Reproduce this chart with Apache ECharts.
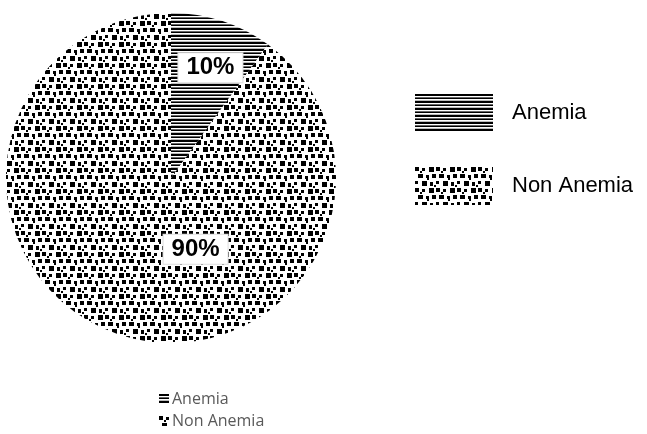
<!DOCTYPE html>
<html>
<head>
<meta charset="utf-8">
<script src="https://cdn.jsdelivr.net/npm/echarts@6/dist/echarts.min.js"></script>
<style>
  html, body { margin: 0; padding: 0; background: #fff; }
  #chart { width: 647px; height: 434px; }
</style>
</head>
<body>
<div id="chart"></div>
<script>
// Share of anemia among the sample (percent)
const categories = ['Anemia', 'Non Anemia'];
const shares = [10, 90];
const labelTexts = ['10%', '90%'];

// Horizontal stripe fill
function stripeTile() {
  const c = document.createElement('canvas');
  const rows = ['#000', '#000', '#fff', '#666', '#000', '#fff', '#bbb'];
  c.width = 4; c.height = rows.length;
  const g = c.getContext('2d');
  rows.forEach((col, i) => { g.fillStyle = col; g.fillRect(0, i, 4, 1); });
  return c;
}

// Scattered square fill on a staggered 7px grid
function squareTile() {
  const c = document.createElement('canvas');
  c.width = 21; c.height = 21;
  const g = c.getContext('2d');
  g.fillStyle = '#fff'; g.fillRect(0, 0, 21, 21);
  g.fillStyle = '#000';
  const sq = [
    [0, 0, 4, 4], [7, 1, 3, 3], [14, 0, 5, 5],
    [3, 7, 5, 4], [11, 8, 3, 3], [17, 7, 4, 4],
    [0, 14, 3, 3], [7, 14, 5, 5], [15, 15, 3, 4],
    [5, 4, 2, 2], [12, 11, 2, 2], [19, 18, 2, 2]
  ];
  sq.forEach(s => g.fillRect(s[0], s[1], s[2], s[3]));
  return c;
}

const fills = [
  { image: stripeTile(), repeat: 'repeat' },
  { image: squareTile(), repeat: 'repeat' }
];
const labelOffsets = [[13, -29], [51, -10]];

const chart = echarts.init(document.getElementById('chart'), null, { renderer: 'canvas' });

chart.setOption({
  animation: false,
  backgroundColor: '#fff',
  legend: [
    {
      orient: 'vertical',
      left: 415,
      top: 94,
      padding: 0,
      itemWidth: 78,
      itemHeight: 38,
      itemGap: 35,
      icon: 'rect',
      data: categories,
      textStyle: {
        fontFamily: 'Liberation Sans, Arial, sans-serif',
        fontSize: 22,
        color: '#000',
        padding: [10, 0, 0, 14]
      }
    },
    {
      orient: 'vertical',
      left: 159,
      top: 389,
      padding: 0,
      itemWidth: 10,
      itemHeight: 10,
      itemGap: 2,
      icon: 'rect',
      data: categories,
      textStyle: {
        fontFamily: 'Open Sans, sans-serif',
        fontSize: 16,
        lineHeight: 20,
        color: '#595959',
        padding: [0, 0, 0, -2]
      }
    }
  ],
  series: [{
    type: 'pie',
    center: [171, 178],
    radius: 165,
    startAngle: 90,
    clockwise: true,
    silent: true,
    labelLine: { show: false },
    data: categories.map((name, i) => ({
      name: name,
      value: shares[i],
      itemStyle: { color: fills[i] },
      label: {
        show: true,
        position: 'inside',
        offset: labelOffsets[i],
        formatter: labelTexts[i],
        fontFamily: 'Liberation Sans, Arial, sans-serif',
        fontWeight: 'bold',
        fontSize: 24,
        color: '#000',
        backgroundColor: '#fff',
        borderColor: '#ddd',
        borderWidth: 1,
        padding: [3, 8, 2, 8]
      }
    }))
  }]
});
</script>
</body>
</html>
